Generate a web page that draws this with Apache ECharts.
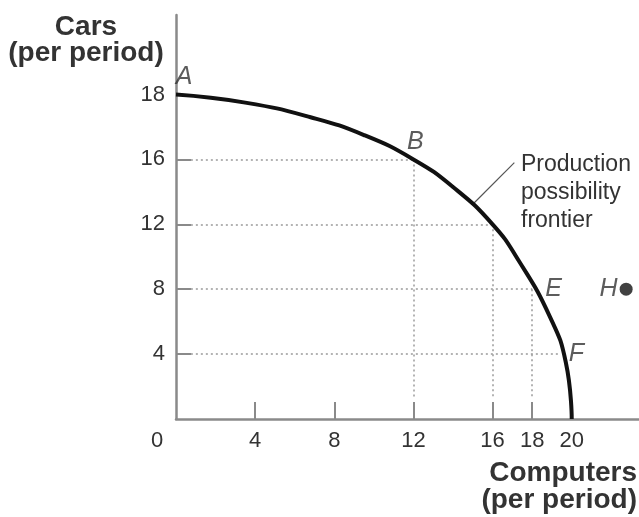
<!DOCTYPE html>
<html>
<head>
<meta charset="utf-8">
<title>Production possibility frontier</title>
<script src="https://cdn.jsdelivr.net/npm/echarts@6/dist/echarts.min.js"></script>
<style>
html, body { margin: 0; padding: 0; background: #fff; }
#main { width: 639px; height: 517px; }
</style>
</head>
<body>
<div id="main"></div>
<script>
// frontier (computers, cars)
var computers = [0, 3.5, 6.8, 9.5, 12, 14, 16, 17.3, 18.9, 19.7, 20];
var cars      = [18, 17.75, 17.3, 16.75, 16, 14.3, 12, 9.8, 6.3, 3.5, 0];

// lettered points on the frontier
var pointNames = ['A', 'B', 'E', 'F'];
var pointComputers = [0, 12, 18, 19.6];
var pointCars = [18, 16, 8, 4];

// point outside the frontier
var outsideName = 'H';
var outsideComputers = 22.75;
var outsideCars = 8;

// dotted guides: horizontal ones run to the frontier, vertical ones drop to the axis
var guideCars = [16, 12, 8, 4];
var guideEndComputers = [12, 16, 18, 19.45];
var dropComputers = [12, 16, 18];
var dropCars = [16, 12, 8];

var carsTicks = [4, 8, 12, 16, 18];
var computerTicks = [0, 4, 8, 12, 16, 18, 20];

// the picture spaces 16 -> 18 on the cars axis as wide as 16 -> 20
function carsToAxis(v) {
    return v <= 16 ? v : 16 + (v - 16) * 2;
}

var txt = '#333';
var axisGray = '#8a8a8a';
var font = 'Liberation Sans, Arial, sans-serif';

var curve = computers.map(function (c, i) { return [c, carsToAxis(cars[i])]; });

var guideLines = [];
guideCars.forEach(function (v, i) {
    guideLines.push([{ coord: [0.75, carsToAxis(v)] }, { coord: [guideEndComputers[i], carsToAxis(v)] }]);
});
dropComputers.forEach(function (c, i) {
    guideLines.push([{ coord: [c, carsToAxis(dropCars[i])] }, { coord: [c, 1.3] }]);
});

// label side and nudge for each lettered point
var labelPlace = { A: ['top', [8, 0]], B: ['top', [2, 0]], E: ['right', [8, 0]], F: ['right', [0, 0]] };

var points = pointNames.map(function (n, i) {
    var o = labelPlace[n];
    return {
        name: n,
        value: [pointComputers[i], carsToAxis(pointCars[i])],
        label: { position: o[0], offset: o[1], distance: 5 }
    };
});

var myChart = echarts.init(document.getElementById('main'));
var option = {
    animation: false,
    backgroundColor: '#fff',
    grid: {
        left: 176,
        right: 0,
        top: 15,
        bottom: 98,
        containLabel: false,
        outerBoundsMode: 'none'
    },
    xAxis: {
        type: 'value',
        min: 0,
        max: 23.4,
        splitLine: { show: false },
        axisLine: { lineStyle: { color: axisGray, width: 2.5 } },
        axisTick: {
            customValues: [4, 8, 12, 16, 18],
            inside: true,
            length: 17,
            lineStyle: { color: axisGray, width: 2 }
        },
        axisLabel: {
            customValues: computerTicks,
            margin: 11,
            color: txt,
            fontFamily: font,
            fontSize: 22,
            formatter: function (v) { return v === 0 ? '{z|0}' : String(v); },
            rich: { z: { padding: [0, 38, 0, 0], color: txt, fontFamily: font, fontSize: 22 } }
        }
    },
    yAxis: {
        type: 'value',
        min: 0,
        max: 24.9,
        splitLine: { show: false },
        axisLine: { lineStyle: { color: axisGray, width: 2.5 } },
        axisTick: {
            customValues: [4, 8, 12, 16],
            inside: true,
            length: 15,
            lineStyle: { color: axisGray, width: 2 }
        },
        axisLabel: {
            customValues: carsTicks.map(carsToAxis),
            margin: 11,
            color: txt,
            fontFamily: font,
            fontSize: 22,
            formatter: function (v) {
                var i = carsTicks.map(carsToAxis).indexOf(v);
                return i >= 0 ? String(carsTicks[i]) : '';
            }
        }
    },
    series: [{
        type: 'line',
        data: curve,
        smooth: 0.5,
        showSymbol: false,
        silent: true,
        lineStyle: { color: '#111', width: 4 },
        z: 5,
        markLine: {
            silent: true,
            symbol: ['none', 'none'],
            label: { show: false },
            lineStyle: { type: [2, 3], color: '#9a9a9a', width: 1.5 },
            data: guideLines
        }
    }, {
        // leader from the frontier to its caption
        type: 'line',
        data: [],
        markLine: {
            silent: true,
            symbol: ['none', 'none'],
            label: { show: false },
            lineStyle: { type: 'solid', color: '#555', width: 1.2 },
            data: [[{ coord: [15.05, 13.3] }, { coord: [17.1, 15.8] }]]
        }
    }, {
        type: 'scatter',
        data: points,
        symbolSize: 0,
        silent: true,
        label: {
            show: true,
            formatter: '{b}',
            color: txt,
            fontFamily: font,
            fontStyle: 'italic',
            fontSize: 25
        }
    }, {
        type: 'scatter',
        data: [{ name: outsideName, value: [outsideComputers, carsToAxis(outsideCars)] }],
        symbolSize: 13,
        silent: true,
        itemStyle: { color: '#111' },
        label: {
            show: true,
            position: 'left',
            distance: 2,
            formatter: '{b}',
            color: txt,
            fontFamily: font,
            fontStyle: 'italic',
            fontSize: 25
        }
    }],
    graphic: [{
        type: 'text',
        x: 86,
        y: 14,
        style: {
            text: 'Cars\n(per period)',
            align: 'center',
            verticalAlign: 'top',
            fill: '#333',
            font: 'bold 28px ' + font,
            lineHeight: 26
        }
    }, {
        type: 'text',
        x: 637,
        y: 460,
        style: {
            text: 'Computers\n(per period)',
            align: 'right',
            verticalAlign: 'top',
            fill: '#333',
            font: 'bold 28px ' + font,
            lineHeight: 27
        }
    }, {
        type: 'text',
        x: 521,
        y: 151,
        style: {
            text: 'Production\npossibility\nfrontier',
            align: 'left',
            verticalAlign: 'top',
            fill: txt,
            font: '23px ' + font,
            lineHeight: 28
        }
    }]
};

myChart.setOption(option);
</script>
</body>
</html>
